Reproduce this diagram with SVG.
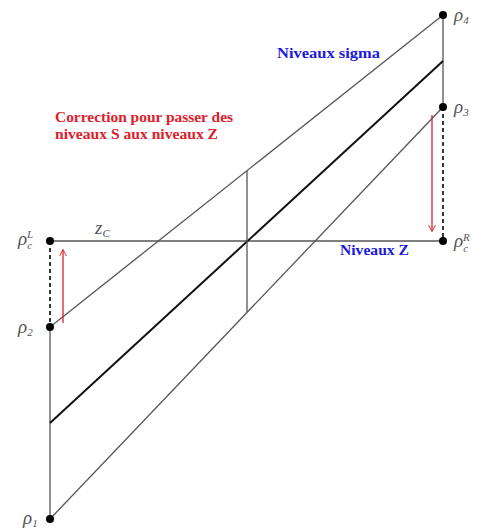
<svg xmlns="http://www.w3.org/2000/svg" width="481" height="528" viewBox="0 0 481 528">
<style>
.ln{stroke:#555;stroke-width:1.3;fill:none}
.thick{stroke:#111;stroke-width:2;fill:none}
.dash{stroke:#222;stroke-width:1.8;stroke-dasharray:4,3;fill:none}
.red{stroke:#e0202a;stroke-width:1.3;fill:none}
.pt{fill:#000}
.sym{font-family:"Liberation Serif",serif;font-style:italic;font-size:19px;fill:#555}
.sub{font-size:11px}
.blue{font-family:"Liberation Serif",serif;font-weight:bold;font-size:14px;fill:#1a1ae0}
.redt{font-family:"Liberation Serif",serif;font-weight:bold;font-size:14px;fill:#e0202a}
</style>
<defs>
<marker id="ah" viewBox="0 0 10 10" refX="9" refY="5" markerWidth="7" markerHeight="10" orient="auto" markerUnits="userSpaceOnUse">
<path d="M0,0 L10,5 L0,10" fill="none" stroke="#e0202a" stroke-width="1.3"/>
</marker>
</defs>
<g id="connectors">
<line class="ln" x1="50" y1="327" x2="50" y2="519"/>
<line class="dash" x1="50" y1="241" x2="50" y2="327"/>
<line class="ln" x1="443" y1="15" x2="443" y2="107"/>
<line class="dash" x1="443" y1="107" x2="443" y2="241"/>
<line class="ln" x1="50" y1="241" x2="443" y2="241"/>
<line class="ln" x1="50" y1="327" x2="443" y2="15"/>
<line class="thick" x1="50" y1="423" x2="443" y2="61"/>
<line class="ln" x1="50" y1="519" x2="443" y2="107"/>
<line class="ln" x1="247" y1="171" x2="247" y2="312"/>
<line class="red" x1="63" y1="323" x2="63" y2="250" marker-end="url(#ah)"/>
<line class="red" x1="432" y1="115" x2="432" y2="231" marker-end="url(#ah)"/>
</g>
<g id="rho4"><circle class="pt" cx="443" cy="15" r="4"/><text class="sym" x="454" y="21">ρ<tspan class="sub" dy="3">4</tspan></text></g>
<g id="rho3"><circle class="pt" cx="443" cy="107" r="4"/><text class="sym" x="454" y="113">ρ<tspan class="sub" dy="3">3</tspan></text></g>
<g id="rhocR"><circle class="pt" cx="443" cy="241" r="4"/><text class="sym" x="454" y="247">ρ<tspan class="sub" dy="5">c</tspan><tspan class="sub" dx="-5" dy="-11">R</tspan></text></g>
<g id="rhocL"><circle class="pt" cx="50" cy="241" r="4"/><text class="sym" x="18" y="245">ρ<tspan class="sub" dy="4">c</tspan><tspan class="sub" dx="-5" dy="-11">L</tspan></text></g>
<g id="rho2"><circle class="pt" cx="50" cy="327" r="4"/><text class="sym" x="18" y="333">ρ<tspan class="sub" dy="3">2</tspan></text></g>
<g id="rho1"><circle class="pt" cx="50" cy="519" r="4"/><text class="sym" x="23" y="524">ρ<tspan class="sub" dy="3">1</tspan></text></g>
<g id="zc"><text class="sym" x="95" y="234" font-size="16">z<tspan class="sub" dy="3">C</tspan></text></g>
<g id="lbl-sigma"><text class="blue" x="277" y="58" textLength="103" lengthAdjust="spacingAndGlyphs">Niveaux sigma</text></g>
<g id="lbl-z"><text class="blue" x="340" y="255" textLength="69" lengthAdjust="spacingAndGlyphs">Niveaux Z</text></g>
<g id="lbl-corr"><text class="redt" x="55" y="122" textLength="178" lengthAdjust="spacingAndGlyphs">Correction pour passer des</text><text class="redt" x="55" y="139" textLength="163" lengthAdjust="spacingAndGlyphs">niveaux S aux niveaux Z</text></g>
</svg>
